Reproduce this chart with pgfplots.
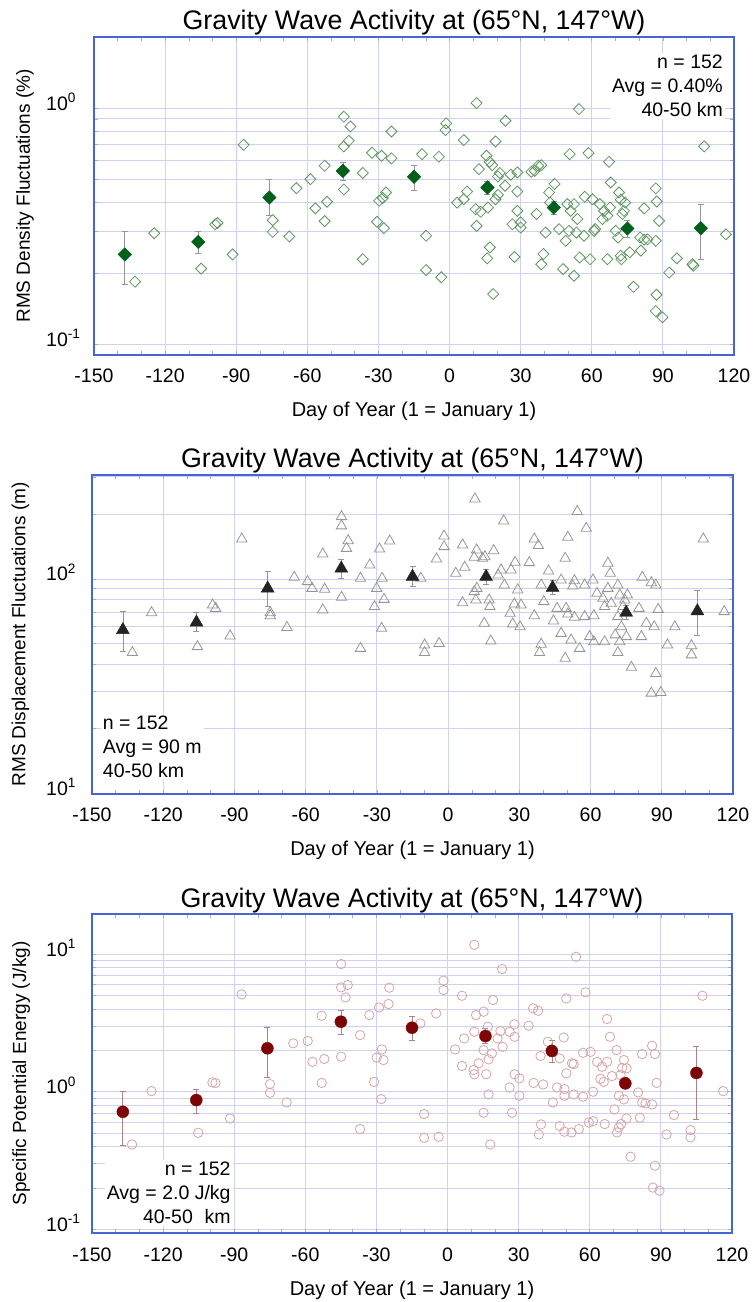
\documentclass[border=0pt]{standalone}
\usepackage{fontspec}
\setmainfont{Liberation Sans}
\usepackage{pgfplots}
\usepackage{pgfplotstable}
\pgfplotsset{compat=1.18}

\definecolor{frameblue}{RGB}{72,100,212}
\definecolor{gridlav}{RGB}{208,208,240}
\definecolor{tickgray}{RGB}{170,170,205}
\definecolor{dgreen}{RGB}{0,95,25}
\definecolor{lgreen}{RGB}{95,150,95}
\definecolor{dgray}{RGB}{35,35,35}
\definecolor{lgray}{RGB}{150,150,150}
\definecolor{dred}{RGB}{125,5,5}
\definecolor{lred}{RGB}{215,165,165}

% ---------------- density fluctuations (%) ----------------
\pgfplotstableread{
day val
-132.7 0.184
-124.6 0.295
-104.8 0.209
-98.9 0.322
-97.9 0.326
-91.5 0.240
-86.9 0.699
-74.6 0.335
-74.6 0.299
-67.6 0.286
-64.6 0.458
-58.7 0.500
-56.6 0.376
-52.7 0.570
-52.7 0.332
-51.7 0.401
-44.6 0.919
-41.8 0.836
-42.5 0.727
-44.6 0.688
-44.6 0.452
-36.6 0.531
-36.6 0.229
-32.7 0.647
-28.7 0.628
-24.5 0.796
-24.5 0.612
-30.6 0.330
-27.7 0.310
-29.7 0.405
-28.2 0.416
-26.8 0.439
-11.6 0.638
-4.5 0.622
-9.9 0.288
-9.9 0.206
-3.5 0.192
-1.4 0.861
-1.7 0.807
6.0 0.732
11.4 1.05
19.4 0.722
23.6 0.884
15.6 0.628
16.9 0.592
12.4 0.551
18.0 0.573
21.2 0.531
20.4 0.513
25.8 0.522
28.6 0.534
23.4 0.469
28.6 0.443
7.4 0.443
3.2 0.398
6.0 0.411
11.0 0.373
13.1 0.364
16.2 0.379
19.4 0.411
20.4 0.429
11.4 0.317
28.6 0.367
26.5 0.322
30.0 0.328
30.0 0.312
17.0 0.257
15.9 0.231
27.4 0.234
18.4 0.163
35.9 0.542
37.4 0.570
38.7 0.573
34.5 0.537
36.7 0.356
40.5 0.297
39.6 0.241
38.7 0.218
44.3 0.477
42.0 0.439
42.4 0.398
46.2 0.307
49.7 0.392
51.1 0.367
52.5 0.392
53.9 0.339
49.0 0.274
47.9 0.208
52.5 0.195
50.4 0.302
53.5 0.297
54.9 0.233
56.7 0.288
59.3 0.229
61.0 0.302
57.0 0.421
60.3 0.411
63.4 0.392
65.2 0.367
67.7 0.379
66.6 0.350
64.5 0.339
68.0 0.484
67.3 0.592
58.6 0.645
50.7 0.638
54.6 0.990
61.4 0.307
66.6 0.229
71.5 0.439
72.2 0.409
74.1 0.398
72.9 0.356
73.6 0.367
70.1 0.302
71.1 0.283
72.2 0.237
72.5 0.229
76.0 0.245
77.6 0.175
82.1 0.376
87.0 0.457
87.4 0.402
88.4 0.333
87.0 0.274
80.4 0.283
82.1 0.277
80.7 0.249
83.5 0.278
87.3 0.162
87.0 0.138
89.8 0.130
92.7 0.201
95.9 0.231
102.5 0.218
102.9 0.215
107.4 0.688
116.6 0.292
}\densitypts

\pgfplotstableread{
day val ep em
-137 0.240 0.062 0.060
-106 0.271 0.029 0.028
-76 0.418 0.082 0.068
-45 0.542 0.047 0.050
-15 0.512 0.061 0.063
16 0.461 0.030 0.030
44 0.379 0.025 0.025
75 0.309 0.025 0.025
106 0.310 0.082 0.081
}\densitymean

% ---------------- displacement fluctuations (m) ----------------
\pgfplotstableread{
day val
-133.0 45.3
-124.9 69.6
-105.6 48.3
-99.2 75.6
-97.9 72.9
-91.8 54.2
-86.9 153.8
-74.9 69.6
-74.9 67.4
-67.9 59.4
-64.8 101.8
-59.2 97.2
-57.3 90.4
-52.0 89.5
-52.8 71.7
-52.8 130.8
-44.9 195.6
-44.9 177
-42.1 151
-42.8 139
-44.9 82.1
-36.9 100.7
-36.9 47.4
-33.0 116.2
-28.9 138.1
-24.6 150.5
-27.8 100.7
-30.1 90.4
-27.0 80.3
-31.0 74.3
-28.0 58.8
-11.5 100.7
-9.9 49.2
-9.9 45.3
-3.8 50.0
-4.9 124
-1.7 158.8
-1.7 141.6
6.1 144.2
11.3 236.6
23.4 186.7
3.2 106.3
7.0 113.4
12.0 136.6
11.0 126.3
14.5 124.9
19.2 135.6
15.5 127.1
11.0 87.3
12.1 90.4
6.1 77.5
11.7 79.8
17.3 79.8
17.6 74.3
15.2 62.1
18.0 51.3
22.3 110.2
21.1 104.4
23.7 93.7
26.5 110.2
28.2 119.6
29.3 88.9
27.9 76.4
30.7 75.6
26.1 69.1
27.2 61.6
30.3 59.8
34.2 119.2
36.3 153.8
38.0 143.2
42.3 109.0
39.2 93.7
40.3 78.4
36.3 67.4
39.2 49.6
38.5 45.3
44.4 63.7
45.9 72.9
47.6 98.9
49.3 124.9
50.4 156.6
54.4 206.6
58.2 172.6
53.2 98.2
52.5 92.7
57.5 93.7
61.0 98.9
49.7 72.9
50.4 68.6
53.2 66.2
57.5 66.7
61.4 67.4
47.6 55.7
51.8 51.9
55.4 47.4
49.3 42.6
59.6 53.8
61.4 50.9
65.9 50.9
67.3 118.4
68.3 106.3
67.3 90.4
71.5 93.7
62.7 85.7
65.2 81.2
65.9 74.3
68.7 77.0
72.3 84.2
74.4 79.8
75.5 84.2
73.7 74.3
71.5 66.7
73.0 59.8
70.4 54.8
72.3 50.9
71.5 45.3
75.1 53.8
81.4 53.8
77.2 38.7
81.8 101.8
85.6 96.1
87.5 93.7
80.4 72.9
88.5 72.1
83.5 62.1
86.8 59.8
95.5 59.8
92.4 49.2
87.5 36.2
85.6 29.3
89.6 29.5
102.5 48.8
102.5 44.2
107.5 153.8
116.3 70.4
}\disppts

\pgfplotstableread{
day val ep em
-137 57.8 12.6 11.7
-106 62.7 7.1 6.0
-76 90.4 18.6 16.1
-45 112 12 11
-15 102.5 11.5 10.5
16 102.5 9 8
44 91.1 7 6
75 69.7 6 5
105 70.8 18 16.1
}\dispmean

% ---------------- specific potential energy (J/kg) ----------------
\pgfplotstableread{
day val
-133.1 0.414
-124.9 1.01
-105.2 0.503
-99.2 1.17
-97.9 1.156
-91.8 0.640
-86.9 5.10
-74.9 1.137
-74.9 0.983
-67.9 0.836
-65.1 2.25
-59.0 2.34
-57.0 1.65
-52.0 1.73
-53.1 3.57
-53.1 1.16
-44.9 8.48
-44.9 5.74
-42.1 5.97
-43.0 4.85
-44.9 1.80
-36.9 2.58
-36.9 0.535
-33.0 3.61
-28.9 4.10
-24.6 5.71
-24.9 4.34
-29.9 1.77
-27.7 2.03
-27.0 1.70
-31.0 1.18
-28.0 0.884
-11.5 3.14
-9.9 0.688
-9.9 0.463
-3.8 0.471
-4.8 3.71
-1.7 6.42
-1.7 5.49
6.1 4.99
11.3 11.7
23.0 7.80
3.2 2.03
7.0 2.44
6.1 1.54
12.0 3.61
15.2 3.82
19.2 4.64
11.3 2.73
17.0 2.97
15.2 2.01
18.7 1.90
21.1 2.44
23.2 2.12
22.3 2.76
17.3 1.72
13.1 1.61
11.0 1.44
11.3 1.34
16.3 1.34
17.3 0.956
15.2 0.704
18.0 0.414
26.2 2.73
28.2 3.09
28.3 2.51
28.3 1.34
30.3 1.25
26.2 1.075
30.3 0.935
27.2 0.704
34.2 3.02
36.1 4.04
38.2 3.88
42.3 2.31
39.2 1.82
49.0 2.48
50.1 4.77
58.2 5.28
54.2 9.59
47.3 1.75
52.5 1.61
53.2 1.59
50.1 1.36
57.2 1.92
60.3 1.95
36.3 1.16
40.3 1.13
46.2 1.075
49.3 1.046
49.3 0.935
53.2 0.956
57.2 0.920
61.4 1.00
44.4 0.836
39.4 0.579
38.5 0.489
47.3 0.563
49.3 0.512
52.3 0.506
55.4 0.535
59.6 0.598
61.4 0.612
66.3 0.582
63.1 1.65
65.2 1.52
67.3 1.65
69.4 1.30
65.9 1.18
64.5 1.24
67.3 3.38
68.5 2.51
71.3 2.01
74.4 1.70
75.5 1.48
73.7 1.49
73.0 1.32
74.4 1.18
72.3 0.935
74.4 0.880
70.4 0.744
75.5 0.640
73.2 0.582
72.3 0.550
71.5 0.506
81.1 0.647
80.4 0.989
82.1 0.836
83.5 0.823
86.3 0.809
77.2 0.337
82.1 1.88
86.3 2.16
87.5 1.88
88.2 1.16
95.5 0.677
92.4 0.489
87.5 0.290
86.6 0.201
89.4 0.191
102.5 0.526
102.5 0.466
107.5 4.99
116.3 1.01
}\energypts

\pgfplotstableread{
day val ep em
-137 0.715 0.295 0.306
-106 0.870 0.176 0.174
-76 2.07 0.85 0.80
-45 3.23 0.70 0.62
-15 2.92 0.59 0.54
16 2.54 0.35 0.30
44 1.98 0.40 0.35
75 1.15 0.12 0.10
105 1.37 0.76 0.74
}\energymean

\pgfplotsset{
  gwpanel/.style={
    scale only axis,
    xmin=-150, xmax=120,
    xtick={-150,-120,...,120},
    xticklabels={-150,-120,-90,-60,-30,0,30,60,90,120},
    minor xtick={-140,-130,-110,-100,-80,-70,-50,-40,-20,-10,10,20,40,50,70,80,100,110},
    xmajorgrids, ymajorgrids, yminorgrids,
    major grid style={gridlav, line width=0.8pt},
    minor grid style={gridlav, line width=0.8pt},
    axis line style={frameblue, line width=1.5pt},
    tick align=inside,
    major tick length=4pt, minor tick length=4pt,
    every tick/.style={tickgray, line width=0.6pt},
    tick label style={font=\fontsize{19.5}{21}\selectfont},
    xticklabel style={anchor=base, yshift=-28pt},
    yticklabel style={anchor=base west, inner xsep=0pt, yshift=-2pt},
    every axis title/.style={at={(0.5,1)}, anchor=base, yshift=7pt,
      font=\fontsize{26.8}{28}\selectfont},
    every axis x label/.style={at={(axis description cs:0.5,0)}, anchor=base,
      yshift=-62pt, font=\fontsize{20}{22}\selectfont},
    every axis y label/.style={anchor=base, rotate=90,
      font=\fontsize{19}{21}\selectfont},
    title={Gravity Wave Activity at (65°N, 147°W)},
    xlabel={Day of Year (1 = January 1)},
  },
}
\tikzset{statbox/.style={fill=white, inner sep=2pt,
    font=\fontsize{19.5}{24}\selectfont}}

\begin{document}
\begin{tikzpicture}
\path[use as bounding box] (0,0) rectangle (753pt,1302pt);

% density fluctuations
\begin{axis}[ymode=log, gwpanel,
  at={(94pt,947pt)}, anchor=south west,
  width=640pt, height=318pt,
  ymin=0.09, ymax=2,
  ytick={0.1,1},
  yticklabels={10\textsuperscript{-1},10\textsuperscript{0}},
  minor ytick={0.2,0.3,0.4,0.5,0.6,0.7,0.8,0.9,2},
  yticklabel style={xshift=-48pt},
  ylabel={RMS Density Fluctuations (\%)},
  ylabel style={at={(axis description cs:-0.1,0.5)}},
]
\addplot[only marks, mark=square, mark size=3.9pt,
  mark options={rotate=45, draw=lgreen, fill=none, line width=0.8pt}]
  table[x=day, y=val] {\densitypts};
\addplot[only marks, mark=square*, mark size=4.8pt,
  mark options={rotate=45, draw=dgreen, fill=dgreen},
  error bars/.cd, y dir=both, y explicit,
  error bar style={color=lgray, line width=0.7pt},
  error mark options={rotate=90, mark size=3pt, color=lgray, line width=0.7pt}]
  table[x=day, y=val, y error plus=ep, y error minus=em] {\densitymean};
\node[statbox, anchor=north east, align=right]
  at (axis description cs:0.986,0.95) {n = 152\\Avg = 0.40\%\\40-50 km};
\end{axis}

% displacement fluctuations
\begin{axis}[ymode=log, gwpanel,
  at={(92pt,508pt)}, anchor=south west,
  width=641pt, height=319pt,
  ymin=9.9, ymax=306,
  ytick={10,100},
  yticklabels={10\textsuperscript{1},10\textsuperscript{2}},
  minor ytick={20,30,40,50,60,70,80,90,200,300},
  yticklabel style={xshift=-46pt},
  ylabel={RMS Displacement Fluctuations (m)},
  ylabel style={at={(axis description cs:-0.104,0.5)}},
]
\addplot[only marks, mark=triangle, mark size=6pt,
  mark options={draw=lgray, fill=none, line width=0.8pt}]
  table[x=day, y=val] {\disppts};
\addplot[only marks, mark=triangle*, mark size=7.5pt,
  mark options={draw=dgray, fill=dgray},
  error bars/.cd, y dir=both, y explicit,
  error bar style={color=lgray, line width=0.7pt},
  error mark options={rotate=90, mark size=3pt, color=lgray, line width=0.7pt}]
  table[x=day, y=val, y error plus=ep, y error minus=em] {\dispmean};
\node[statbox, anchor=north west, align=left]
  at (axis description cs:0.0136,0.251) {n = 152\\Avg = 90 m\\40-50 km};
\end{axis}

% specific potential energy
\begin{axis}[ymode=log, gwpanel,
  at={(92pt,69pt)}, anchor=south west,
  width=640pt, height=319pt,
  ymin=0.094, ymax=19.6,
  ytick={0.1,1,10},
  yticklabels={10\textsuperscript{-1},10\textsuperscript{0},10\textsuperscript{1}},
  minor ytick={0.2,0.3,0.4,0.5,0.6,0.7,0.8,0.9,2,3,4,5,6,7,8,9},
  yticklabel style={xshift=-46pt},
  ylabel={Specific Potential Energy (J/kg)},
  ylabel style={at={(axis description cs:-0.103,0.5)}},
]
\addplot[only marks, mark=o, mark size=4.7pt,
  mark options={draw=lred, fill=none, line width=0.8pt}]
  table[x=day, y=val] {\energypts};
\addplot[only marks, mark=*, mark size=6pt,
  mark options={draw=dred, fill=dred},
  error bars/.cd, y dir=both, y explicit,
  error bar style={color=lred!80!black, line width=0.7pt},
  error mark options={rotate=90, mark size=3pt, color=lred!80!black, line width=0.7pt}]
  table[x=day, y=val, y error plus=ep, y error minus=em] {\energymean};
\node[statbox, anchor=north east, align=right]
  at (axis description cs:0.220,0.230) {n = 152\\Avg = 2.0 J/kg\\40-50\hspace{0.6em}km};
\end{axis}
\end{tikzpicture}
\end{document}
